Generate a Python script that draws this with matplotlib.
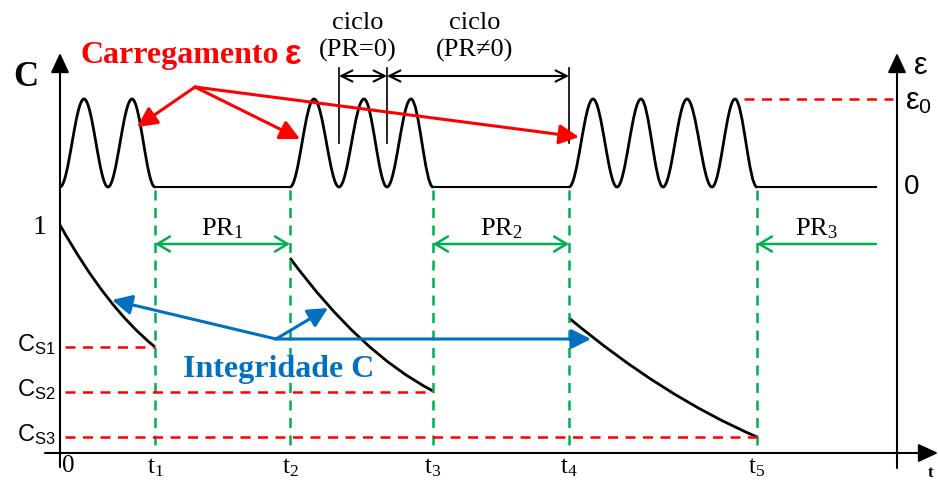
import numpy as np
import matplotlib.pyplot as plt
from matplotlib.path import Path
from matplotlib.patches import PathPatch

plt.rcParams['mathtext.fontset'] = 'custom'
plt.rcParams['mathtext.rm'] = 'Liberation Serif'
plt.rcParams['mathtext.sf'] = 'Liberation Sans'
plt.rcParams['mathtext.it'] = 'Liberation Serif:italic'

SERIF = 'Liberation Serif'
SANS = 'Liberation Sans'
RED = '#ff0000'
GREEN = '#00b050'
BLUE = '#0070c0'

# strain signal: x of successive troughs/peaks in each loading block
block_extrema = [
    [60, 84, 108, 132, 155],
    [290, 314, 339, 364, 387, 411, 433],
    [569, 593, 617, 641, 663, 687, 712, 735, 757],
]
strain_zero = 187
strain_peak = 99
strain_end = 876

# instants t1..t5 (end/start of each block)
t_marks = [155, 290, 433, 569, 757]
t_labels = [r't$_\mathrm{1}$', r't$_\mathrm{2}$', r't$_\mathrm{3}$', r't$_\mathrm{4}$', r't$_\mathrm{5}$']

# integrity C decay in each block: start, middle, end points
integ_start = [(60, 225), (290, 258), (569, 318)]
integ_mid = [(107, 297), (361, 339), (663, 387)]
integ_end = [(155, 347), (433, 391), (757, 437)]

# residual integrity levels Cs1..Cs3
cs_levels = [347, 392, 437]
cs_labels = [r'C$_\mathsf{S1}$', r'C$_\mathsf{S2}$', r'C$_\mathsf{S3}$']

# rest periods PR1..PR3
pr_spans = [(155, 290), (433, 569), (876, 757)]
pr_labels = [r'PR$_\mathrm{1}$', r'PR$_\mathrm{2}$', r'PR$_\mathrm{3}$']
pr_y = 244

# cycle markers
cycle_marks = [339, 387, 569]

fig = plt.figure(figsize=(9.38, 4.82), dpi=100)
ax = fig.add_axes([0, 0, 1, 1])
ax.set_xlim(0, 938)
ax.set_ylim(482, 0)
ax.axis('off')


def arrow(ax, start, end, style, color, lw, scale):
    ax.annotate('', xy=end, xytext=start,
                arrowprops=dict(arrowstyle=style, color=color, lw=lw,
                                mutation_scale=scale, shrinkA=0, shrinkB=0))


# axes of the diagram
axis_head = '-|>,head_length=0.6,head_width=0.28'
arrow(ax, (60, 467), (60, 53), axis_head, 'black', 1.5, 20)
arrow(ax, (897, 468), (897, 53), axis_head, 'black', 1.5, 20)
arrow(ax, (45, 453), (938, 453), axis_head, 'black', 1.5, 20)

# strain signal drawn as cubic bezier half-waves
k = 0.3642
verts = []
codes = []
for block in block_extrema:
    ys = [strain_zero if i % 2 == 0 else strain_peak for i in range(len(block))]
    verts.append((block[0], ys[0]))
    codes.append(Path.MOVETO)
    for i in range(len(block) - 1):
        dx = block[i + 1] - block[i]
        verts += [(block[i] + k * dx, ys[i]), (block[i + 1] - k * dx, ys[i + 1]),
                  (block[i + 1], ys[i + 1])]
        codes += [Path.CURVE4] * 3
ax.add_patch(PathPatch(Path(verts, codes), fill=False, lw=2, color='black'))
flat_starts = [b[-1] for b in block_extrema]
flat_ends = [b[0] for b in block_extrema[1:]] + [strain_end]
for x0, x1 in zip(flat_starts, flat_ends):
    ax.plot([x0, x1], [strain_zero, strain_zero], color='black', lw=1.5)

# integrity decay curves (quadratic bezier through middle point)
for p0, pm, p2 in zip(integ_start, integ_mid, integ_end):
    p0, pm, p2 = np.array(p0), np.array(pm), np.array(p2)
    p1 = 2 * pm - (p0 + p2) / 2
    ax.add_patch(PathPatch(Path([p0, p1, p2], [Path.MOVETO, Path.CURVE3, Path.CURVE3]),
                           fill=False, lw=2, color='black'))

# green dashed time markers
for t in t_marks:
    ax.plot([t, t], [190, 447], color=GREEN, lw=1.8, linestyle=(0, (4, 3)))

# red dashed residual levels
for y, x1, lab in zip(cs_levels, t_marks[0::2], cs_labels):
    ax.plot([65, x1], [y, y], color=RED, lw=1.8, linestyle=(0, (4, 3)))
    ax.text(56, y - 2, lab, family=SANS, fontsize=17, ha='right', va='center')
ax.plot([744, 893], [strain_peak, strain_peak], color=RED, lw=1.8, linestyle=(0, (4, 3)))

# rest periods
for (x0, x1), lab in zip(pr_spans, pr_labels):
    style = '<->,head_length=0.5,head_width=0.3' if x0 < x1 else '->,head_length=0.5,head_width=0.3'
    arrow(ax, (x0, pr_y), (x1, pr_y), style, GREEN, 1.8, 18)
    ax.text((x0 + x1) / 2, pr_y - 15, lab, family=SERIF, fontsize=19, ha='center', va='center')

# cycle definitions
for x in cycle_marks:
    ax.plot([x, x], [68, 143], color='black', lw=1.2)
cyc_head = '<->,head_length=0.5,head_width=0.25'
arrow(ax, (cycle_marks[0], 76), (cycle_marks[1], 76), cyc_head, 'black', 1.5, 16)
arrow(ax, (cycle_marks[1], 76), (cycle_marks[2], 76), cyc_head, 'black', 1.5, 16)
ax.text(358, 23, 'ciclo', family=SERIF, fontsize=19, ha='center', va='center')
ax.text(358, 50, '(PR=0)', family=SERIF, fontsize=19, ha='center', va='center')
ax.text(475, 23, 'ciclo', family=SERIF, fontsize=19, ha='center', va='center')
ax.text(475, 50, '(PR\u22600)', family=SERIF, fontsize=19, ha='center', va='center')

# loading annotation
ax.text(80, 55, 'Carregamento', family=SERIF, fontsize=23, fontweight='bold',
        color=RED, ha='left', va='center')
ax.text(285, 54, '\u03b5', family=SANS, fontsize=25, fontweight='bold',
        color=RED, ha='left', va='center')
red_head = '-|>,head_length=0.6,head_width=0.3'
for target in [(137, 127), (300, 139), (579, 137)]:
    arrow(ax, (195, 87), target, red_head, RED, 2.2, 20)

# integrity annotation
ax.text(183, 370, 'Integridade C', family=SERIF, fontsize=23, fontweight='bold',
        color=BLUE, ha='left', va='center')
for target in [(112, 300), (328, 308), (591, 339)]:
    arrow(ax, (276, 339), target, red_head, BLUE, 2.2, 20)

# axis labels and ticks
ax.text(26, 77, 'C', family=SERIF, fontsize=25, fontweight='bold', ha='center', va='center')
ax.text(40, 227, '1', family=SERIF, fontsize=20, ha='center', va='center')
ax.text(68, 466, '0', family=SERIF, fontsize=18, ha='center', va='center')
for t, lab in zip(t_marks, t_labels):
    ax.text(t, 468, lab, family=SERIF, fontsize=18, ha='center', va='center')
ax.text(921, 66, '\u03b5', family=SANS, fontsize=22, ha='center', va='center')
ax.text(905, 101, r'$\mathsf{\varepsilon}$$_\mathsf{0}$', family=SANS, fontsize=22, ha='left', va='center')
ax.text(904, 187, '0', family=SANS, fontsize=20, ha='left', va='center')
ax.text(930, 473, 't', family=SERIF, fontsize=12, fontweight='bold', ha='center', va='center')

plt.savefig('out.png', dpi=100)
